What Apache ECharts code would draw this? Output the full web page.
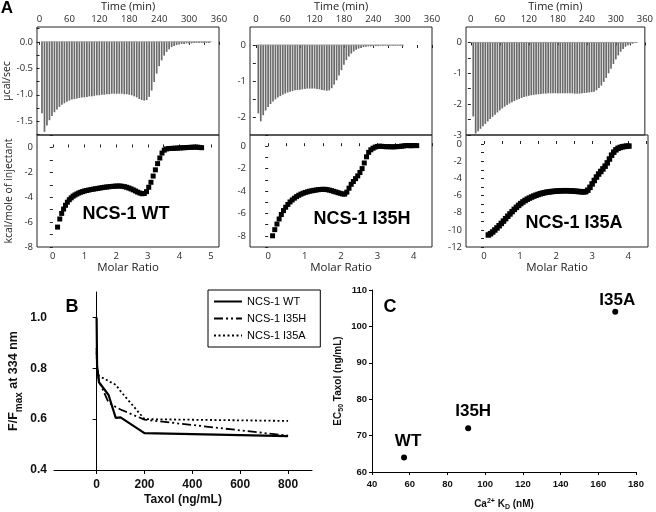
<!DOCTYPE html>
<html><head><meta charset="utf-8">
<script src="https://cdn.jsdelivr.net/npm/echarts@6/dist/echarts.min.js"></script>
<style>html,body{margin:0;padding:0;background:#fff}#c{width:656px;height:512px}</style>
</head><body><div id="c"></div>
<script>
// ---------- Panel A: raw ITC power (injection times, min; peak power, µcal/sec) ----------
const wtTime = [5,10,15,20,25,30,35,40,45,50,55,60,65,70,75,80,85,90,95,100,105,110,115,120,125,130,135,140,145,150,155,160,165,170,175,180,185,190,195,200,205,210,215,220,225,230,235,240,245,250,255,260,265,270,275,280,285,290,295,300,305,310,315,320,325,330,335,340];
const wtPower = [-1.35,-1.70,-1.58,-1.48,-1.40,-1.33,-1.28,-1.23,-1.19,-1.16,
 -1.13,-1.11,-1.09,-1.08,-1.07,-1.06,-1.05,-1.05,-1.04,-1.03,
 -1.03,-1.02,-1.01,-1.01,-1.00,-1.00,-0.99,-0.99,-0.98,-0.98,
 -0.98,-0.98,-0.98,-0.99,-0.99,-1.00,-1.01,-1.03,-1.05,-1.08,
 -1.10,-1.11,-1.10,-1.04,-0.92,-0.76,-0.60,-0.46,-0.35,-0.26,
 -0.19,-0.14,-0.10,-0.08,-0.06,-0.05,-0.04,-0.04,-0.03,-0.03,
 -0.03,-0.02,-0.02,-0.02,-0.02,-0.02,-0.02,-0.02];
const wtBaseline = [[3,0],[345,0]];

const hTime = [5,10,15,20,25,30,35,40,45,50,55,60,65,70,75,80,85,90,95,100,105,110,115,120,125,130,135,140,145,150,155,160,165,170,175,180,185,190,195,200,205,210,215,220,225,230,235,240,245,250,255,260,265,270,275,280,285,290,295,300];
const hPower = [-1.90,-2.12,-1.95,-1.82,-1.72,-1.64,-1.57,-1.51,-1.46,-1.42,
 -1.38,-1.35,-1.32,-1.30,-1.28,-1.26,-1.25,-1.24,-1.23,-1.22,
 -1.21,-1.21,-1.21,-1.21,-1.22,-1.23,-1.25,-1.26,-1.27,-1.26,
 -1.20,-1.10,-0.98,-0.85,-0.70,-0.55,-0.42,-0.32,-0.24,-0.18,
 -0.13,-0.10,-0.08,-0.06,-0.05,-0.04,-0.04,-0.03,-0.03,-0.03,
 -0.02,-0.02,-0.02,-0.02,-0.02,-0.02,-0.02,-0.02,-0.02,-0.02];
const hBaseline = [[2,0],[302,0]];

const aTime = [5,10,15,20,25,30,35,40,45,50,55,60,65,70,75,80,85,90,95,100,105,110,115,120,125,130,135,140,145,150,155,160,165,170,175,180,185,190,195,200,205,210,215,220,225,230,235,240,245,250,255,260,265,270,275,280,285,290,295,300,305,310,315,320,325,330,335,340];
const aPower = [-2.40,-2.95,-2.88,-2.80,-2.72,-2.64,-2.56,-2.48,-2.41,-2.34,
 -2.27,-2.20,-2.14,-2.08,-2.03,-1.98,-1.94,-1.90,-1.86,-1.83,
 -1.80,-1.77,-1.75,-1.73,-1.71,-1.70,-1.69,-1.68,-1.67,-1.66,
 -1.66,-1.65,-1.65,-1.65,-1.65,-1.65,-1.65,-1.65,-1.65,-1.65,
 -1.65,-1.65,-1.66,-1.66,-1.66,-1.65,-1.64,-1.63,-1.62,-1.61,
 -1.60,-1.55,-1.48,-1.40,-1.28,-1.15,-1.00,-0.85,-0.70,-0.55,
 -0.42,-0.30,-0.21,-0.14,-0.09,-0.06,-0.04,-0.02];
const aBaseline = [[2,0],[345,0]];

// ---------- Panel A: integrated heats (molar ratio; kcal/mole of injectant) ----------
const wtRatio = [0.15,0.22,0.28,0.34,0.40,0.46,0.52,0.58,0.64,0.70,0.76,0.82,0.88,0.94,1.00,1.07,1.14,1.21,1.28,1.35,1.42,1.49,1.56,1.63,1.70,1.77,1.84,1.91,1.98,2.05,2.12,2.19,2.26,2.33,2.40,2.47,2.54,2.61,2.68,2.75,2.82,2.89,2.96,3.03,3.10,3.17,3.24,3.31,3.38,3.45,3.52,3.59,3.66,3.73,3.80,3.87,3.94,4.01,4.08,4.15,4.22,4.29,4.36,4.43,4.50,4.57,4.64,4.70];
const wtHeat = [-6.40,-5.75,-5.30,-4.95,-4.65,-4.40,-4.20,-4.05,-3.92,-3.82,-3.74,-3.66,-3.60,-3.55,-3.50,-3.46,-3.42,-3.38,-3.35,-3.32,-3.29,-3.26,-3.23,-3.20,-3.18,-3.16,-3.14,-3.12,-3.11,-3.10,-3.10,-3.12,-3.15,-3.20,-3.26,-3.33,-3.41,-3.50,-3.59,-3.66,-3.72,-3.70,-3.55,-3.20,-2.80,-2.30,-1.80,-1.30,-0.85,-0.45,-0.22,-0.12,-0.09,-0.08,-0.07,-0.06,-0.05,-0.04,-0.03,-0.02,-0.01,0.00,0.01,0.02,0.03,0.02,0.00,-0.02];

const hRatio = [0.12,0.18,0.24,0.30,0.36,0.42,0.48,0.54,0.60,0.66,0.72,0.78,0.84,0.90,0.96,1.02,1.08,1.14,1.20,1.26,1.32,1.38,1.44,1.50,1.56,1.62,1.68,1.74,1.80,1.86,1.92,1.98,2.04,2.10,2.16,2.22,2.28,2.34,2.40,2.46,2.52,2.58,2.64,2.70,2.76,2.82,2.88,2.94,3.00,3.06,3.12,3.18,3.24,3.30,3.36,3.42,3.48,3.54,3.60,3.66,3.72,3.78,3.84,3.90,3.96,4.02,4.08];
const hHeat = [-8.00,-7.45,-6.95,-6.50,-6.10,-5.75,-5.45,-5.20,-4.98,-4.80,-4.64,-4.50,-4.38,-4.28,-4.20,-4.13,-4.07,-4.02,-3.98,-3.94,-3.91,-3.88,-3.86,-3.85,-3.85,-3.88,-3.92,-3.97,-4.03,-4.09,-4.15,-4.21,-4.26,-4.28,-4.10,-3.75,-3.40,-3.15,-2.90,-2.65,-2.35,-2.00,-1.50,-0.95,-0.55,-0.32,-0.18,-0.08,-0.02,0.00,-0.01,-0.03,-0.05,-0.04,-0.05,-0.06,-0.05,-0.04,-0.02,0.00,0.02,0.05,0.06,0.04,0.05,0.06,0.05];

const aRatio = [0.12,0.18,0.24,0.30,0.36,0.42,0.48,0.54,0.60,0.66,0.72,0.78,0.84,0.90,0.96,1.02,1.08,1.14,1.20,1.26,1.32,1.38,1.44,1.50,1.56,1.62,1.68,1.74,1.80,1.86,1.92,1.98,2.04,2.10,2.16,2.22,2.28,2.34,2.40,2.46,2.52,2.58,2.64,2.70,2.76,2.82,2.88,2.94,3.00,3.06,3.12,3.18,3.24,3.30,3.36,3.42,3.48,3.54,3.60,3.66,3.72,3.78,3.84,3.90,3.96,4.02];
const aHeat = [-10.60,-10.45,-10.25,-10.02,-9.78,-9.52,-9.25,-8.98,-8.70,-8.42,-8.15,-7.88,-7.62,-7.38,-7.15,-6.94,-6.75,-6.58,-6.43,-6.30,-6.18,-6.07,-5.97,-5.88,-5.80,-5.73,-5.67,-5.62,-5.58,-5.55,-5.52,-5.50,-5.48,-5.46,-5.45,-5.44,-5.44,-5.45,-5.46,-5.48,-5.50,-5.52,-5.54,-5.56,-5.58,-5.55,-5.38,-5.05,-4.65,-4.25,-3.85,-3.50,-3.20,-2.90,-2.58,-2.20,-1.75,-1.30,-0.95,-0.68,-0.50,-0.40,-0.33,-0.28,-0.25,-0.24];

// ---------- Panel B: fluorescence vs taxol ----------
const taxol = [0, 2, 10, 50, 80, 100, 200, 800];
const fWT   = [1.00, 0.81, 0.745, 0.695, 0.605, 0.607, 0.545, 0.533];
const fI35H = [0.87, 0.80, 0.750, 0.665, 0.648, 0.638, 0.598, 0.535];
const fI35A = [0.88, 0.80, 0.770, 0.750, 0.735, 0.710, 0.600, 0.593];
const bNames = ['NCS-1 WT', 'NCS-1 I35H', 'NCS-1 I35A'];
const taxolTicks = [0, 200, 400, 600, 800];
const fTicks = [0.4, 0.6, 0.8, 1.0];

// ---------- Panel C ----------
const cNames = ['WT', 'I35H', 'I35A'];
const cKd = [57, 91, 169];
const cEC50 = [64, 72, 104];

// ---------- Tick labels ----------
const timeTicks = [0, 60, 120, 180, 240, 300, 360];
const timeMinor = [0, 30, 60, 90, 120, 150, 180, 210, 240, 270, 300, 330, 360];
const wtPowTicks = [0, -0.5, -1.0, -1.5];
const wtPowMinor = [0.25, 0, -0.25, -0.5, -0.75, -1.0, -1.25, -1.5, -1.75];
const hPowTicks = [0, -1, -2];
const hPowMinor = [0, -0.5, -1, -1.5, -2];
const aPowTicks = [0, -1, -2, -3];
const aPowMinor = [0, -0.5, -1, -1.5, -2, -2.5, -3];
const wtHeatTicks = [0, -2, -4, -6, -8];
const wtHeatMinor = [1, 0, -1, -2, -3, -4, -5, -6, -7, -8];
const hHeatTicks = [0, -2, -4, -6, -8];
const hHeatMinor = [1, 0, -1, -2, -3, -4, -5, -6, -7, -8, -9];
const aHeatTicks = [0, -2, -4, -6, -8, -10, -12];
const aHeatMinor = [0, -1, -2, -3, -4, -5, -6, -7, -8, -9, -10, -11, -12];
const wtRatioTicks = [0, 1, 2, 3, 4, 5];
const wtRatioMinor = [0, 0.5, 1, 1.5, 2, 2.5, 3, 3.5, 4, 4.5, 5];
const ratioTicks = [0, 1, 2, 3, 4];
const ratioMinor = [0, 0.5, 1, 1.5, 2, 2.5, 3, 3.5, 4, 4.5];

const FA = 'Open Sans';
const FB = 'Liberation Sans';
const zip = (xs, ys) => xs.map((x, i) => [x, ys[i]]);

const chart = echarts.init(document.getElementById('c'), null, {renderer: 'canvas'});

const boxGrid = (l, t, w, h) => ({left: l, top: t, width: w, height: h, show: true, borderColor: '#222', borderWidth: 1, backgroundColor: 'transparent', containLabel: false});

const grids = [
  boxGrid(37, 25, 182, 110), boxGrid(37, 135, 182, 112),
  boxGrid(250, 25, 182, 110), boxGrid(250, 135, 182, 112),
  boxGrid(466, 25, 182, 110), boxGrid(466, 135, 182, 112),
  {left: 54, top: 292, width: 258, height: 178},
  {left: 372, top: 290, width: 264, height: 184}
];

const aLabel = {fontFamily: FA, fontSize: 9.5, color: '#2a2a2a'};
function topTimeAxis(g, min) {
  return {type: 'value', gridIndex: g, position: 'top', min: min, max: 360,
    axisLine: {show: false}, splitLine: {show: false},
    axisTick: {show: true, inside: true, length: 3, customValues: timeMinor, lineStyle: {color: '#222'}},
    axisLabel: Object.assign({customValues: timeTicks, margin: 3}, aLabel),
    name: 'Time (min)', nameLocation: 'middle', nameGap: 15,
    nameTextStyle: {fontFamily: FA, fontSize: 11, color: '#222'}};
}
function ratioAxis(g, max, ticks, minor) {
  return {type: 'value', gridIndex: g, position: 'bottom', min: -0.5, max: max,
    axisLine: {show: false}, splitLine: {show: false},
    axisTick: {show: true, inside: true, length: 3, customValues: minor, lineStyle: {color: '#222'}},
    axisLabel: Object.assign({customValues: ticks, margin: 4}, aLabel),
    name: 'Molar Ratio', nameLocation: 'middle', nameGap: 15,
    nameTextStyle: {fontFamily: FA, fontSize: 11.5, color: '#222'}};
}
function yA(g, min, max, ticks, minor, fmt, name) {
  const ax = {type: 'value', gridIndex: g, min: min, max: max,
    axisLine: {show: false}, splitLine: {show: false},
    axisTick: {show: true, inside: false, length: 3, customValues: minor, lineStyle: {color: '#222'}},
    axisLabel: Object.assign({customValues: ticks, margin: 4, formatter: fmt}, aLabel)};
  if (name) {
    ax.name = name; ax.nameLocation = 'middle'; ax.nameGap = 22;
    ax.nameTextStyle = {fontFamily: FA, fontSize: 10.5, color: '#222'};
  }
  return ax;
}
const f1 = v => (+v).toFixed(1);
const f0 = v => String(Math.round(+v));

const xAxes = [
  topTimeAxis(0, -5),
  ratioAxis(1, 5.25, wtRatioTicks, wtRatioMinor),
  topTimeAxis(2, -12),
  ratioAxis(3, 4.5, ratioTicks, ratioMinor),
  topTimeAxis(4, -10),
  ratioAxis(5, 4.55, ratioTicks, ratioMinor),
  {type: 'value', gridIndex: 6, min: -178, max: 900,
    axisLine: {show: true, lineStyle: {color: '#000', width: 1}}, splitLine: {show: false},
    axisTick: {show: true, length: 4, customValues: taxolTicks, lineStyle: {color: '#000'}},
    axisLabel: {customValues: taxolTicks, margin: 9, fontFamily: FB, fontWeight: 'bold', fontSize: 12, color: '#111'},
    name: 'Taxol (ng/mL)', nameLocation: 'middle', nameGap: 24,
    nameTextStyle: {fontFamily: FB, fontWeight: 'bold', fontSize: 12, color: '#111'}},
  {type: 'value', gridIndex: 7, min: 40, max: 180, interval: 20,
    axisLine: {show: true, lineStyle: {color: '#000', width: 1}}, splitLine: {show: false},
    axisTick: {show: true, length: 3, lineStyle: {color: '#000'}},
    axisLabel: {margin: 7, fontFamily: FB, fontWeight: 'bold', fontSize: 9.5, color: '#111'},
    name: 'Ca{sup|2+} K{sub|D} (nM)', nameLocation: 'middle', nameGap: 26,
    nameTextStyle: {fontFamily: FB, fontWeight: 'bold', fontSize: 10, color: '#111',
      rich: {sup: {fontFamily: FB, fontWeight: 'bold', fontSize: 7, padding: [0, 0, 6, 0]},
             sub: {fontFamily: FB, fontWeight: 'bold', fontSize: 7, padding: [6, 0, 0, 0]}}}}
];

const yAxes = [
  yA(0, -1.76, 0.28, wtPowTicks, wtPowMinor, f1, 'µcal/sec'),
  yA(1, -8, 1, wtHeatTicks, wtHeatMinor, f0, 'kcal/mole of injectant'),
  yA(2, -2.5, 0.5, hPowTicks, hPowMinor, f0, null),
  yA(3, -9, 1, hHeatTicks, hHeatMinor, f0, null),
  yA(4, -3, 0.5, aPowTicks, aPowMinor, f0, null),
  yA(5, -12, 1.05, aHeatTicks, aHeatMinor, f0, null),
  {type: 'value', gridIndex: 6, min: 0.4, max: 1.1,
    axisLine: {show: true, lineStyle: {color: '#000', width: 1}}, splitLine: {show: false},
    axisTick: {show: true, length: 4, customValues: fTicks, lineStyle: {color: '#000'}},
    axisLabel: {customValues: fTicks, formatter: f1, margin: 7, fontFamily: FB, fontWeight: 'bold', fontSize: 12, color: '#111'},
    name: 'F/F{sub|max} at 334 nm', nameLocation: 'middle', nameGap: 30,
    nameTextStyle: {fontFamily: FB, fontWeight: 'bold', fontSize: 12.5, color: '#111',
      rich: {sub: {fontFamily: FB, fontWeight: 'bold', fontSize: 10, padding: [0, 0, 0, 0], verticalAlign: 'bottom', lineHeight: 20}}}},
  {type: 'value', gridIndex: 7, min: 60, max: 110, interval: 10,
    axisLine: {show: true, lineStyle: {color: '#000', width: 1}}, splitLine: {show: false},
    axisTick: {show: true, length: 3, lineStyle: {color: '#000'}},
    axisLabel: {margin: 5, fontFamily: FB, fontWeight: 'bold', fontSize: 9.5, color: '#111'},
    name: 'EC{sub|50} Taxol (ng/mL)', nameLocation: 'middle', nameGap: 27,
    nameTextStyle: {fontFamily: FB, fontWeight: 'bold', fontSize: 10, color: '#111',
      rich: {sub: {fontFamily: FB, fontWeight: 'bold', fontSize: 7, padding: [6, 0, 0, 0]}}}}
];

const spike = (g, t, p) => ({type: 'bar', xAxisIndex: g, yAxisIndex: g, data: zip(t, p), barWidth: 1.7,
  itemStyle: {color: '#6a6a6a'}, silent: true, animation: false});
const base = (g, d) => ({type: 'line', xAxisIndex: g, yAxisIndex: g, data: d, symbol: 'none',
  lineStyle: {color: '#9a9a9a', width: 1}, silent: true, animation: false});
const heat = (g, r, h, s) => ({type: 'scatter', xAxisIndex: g, yAxisIndex: g, data: zip(r, h),
  symbol: 'rect', symbolSize: s, itemStyle: {color: '#000', opacity: 1}, silent: true, animation: false});
const bLine = (name, ys, width, type) => ({name: name, type: 'line', xAxisIndex: 6, yAxisIndex: 6,
  data: zip(taxol, ys), symbol: 'none', showSymbol: false, itemStyle: {color: '#000'},
  lineStyle: {color: '#000', width: width, type: type}, animation: false});

const cLabelOffsets = [[4, 0], [5, 0], [2, 0]];
const cLabelDist = [5, 6, 0];

const series = [
  spike(0, wtTime, wtPower), base(0, wtBaseline),
  spike(2, hTime, hPower), base(2, hBaseline),
  spike(4, aTime, aPower), base(4, aBaseline),
  heat(1, wtRatio, wtHeat, 5), heat(3, hRatio, hHeat, 5), heat(5, aRatio, aHeat, 5.5),
  bLine(bNames[0], fWT, 2.2, 'solid'),
  bLine(bNames[1], fI35H, 1.8, [9, 3, 2, 3, 2, 3]),
  bLine(bNames[2], fI35A, 1.8, [2, 2.5]),
  {type: 'scatter', xAxisIndex: 7, yAxisIndex: 7, symbol: 'circle', symbolSize: 6,
    itemStyle: {color: '#000', opacity: 1}, animation: false,
    data: cNames.map((n, i) => ({value: [cKd[i], cEC50[i]], name: n,
      label: {show: true, position: 'top', distance: cLabelDist[i], offset: cLabelOffsets[i], formatter: n,
        fontFamily: FB, fontWeight: 'bold', fontSize: 17, color: '#000', opacity: 1}}))}
];

const txt = (x, y, s, size, extra) => ({type: 'text', x: x, y: y,
  style: Object.assign({text: s, fontFamily: FB, fontWeight: 'bold', fontSize: size, fill: '#000', align: 'center', verticalAlign: 'middle'}, extra || {})});

const option = {
  animation: false,
  backgroundColor: '#fff',
  grid: grids,
  xAxis: xAxes,
  yAxis: yAxes,
  legend: {data: bNames, orient: 'vertical', left: 208, top: 290, padding: [6, 14, 6, 5], itemGap: 6,
    itemWidth: 28, itemHeight: 8, borderColor: '#000', borderWidth: 1, backgroundColor: '#fff',
    itemStyle: {opacity: 0},
    textStyle: {fontFamily: FB, fontSize: 11, color: '#000'}, selectedMode: false},
  series: series,
  graphic: [
    txt(7, 8, 'A', 17),
    txt(72, 307, 'B', 18),
    txt(390, 307, 'C', 18),
    txt(126, 214, 'NCS-1 WT', 18),
    txt(362, 219, 'NCS-1 I35H', 18),
    txt(574, 223, 'NCS-1 I35A', 18)
  ]
};
chart.setOption(option);
</script></body></html>
